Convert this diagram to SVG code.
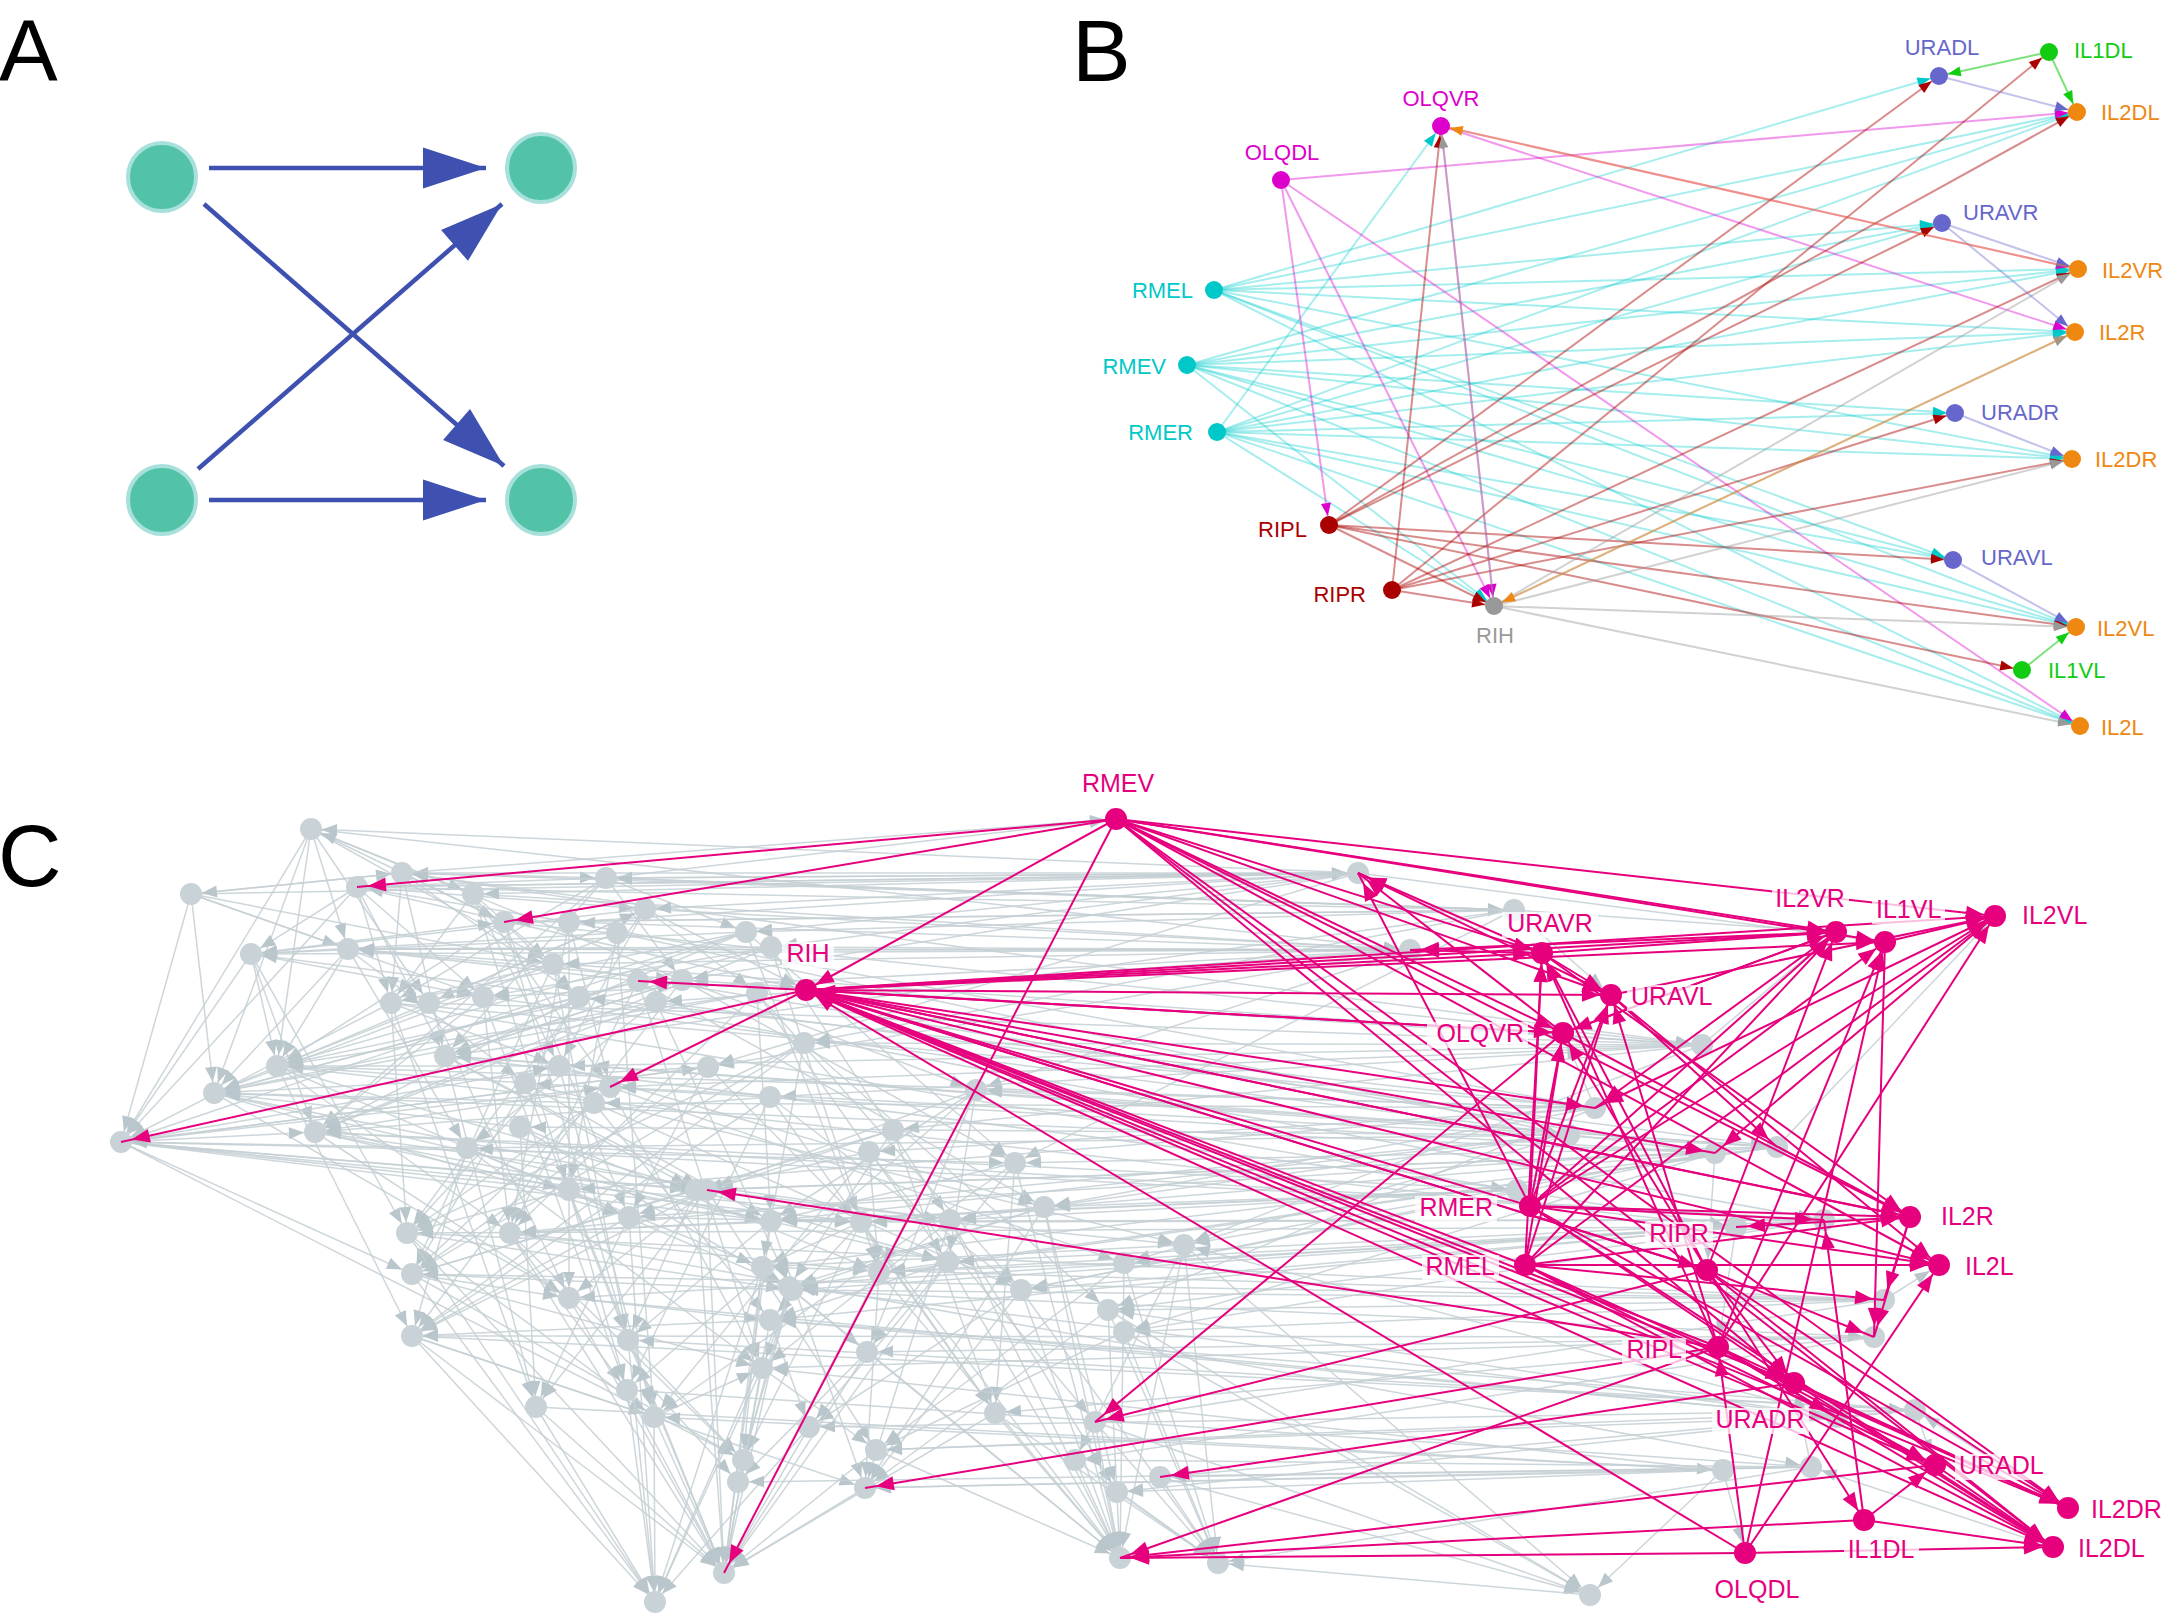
<svg xmlns="http://www.w3.org/2000/svg" width="2167" height="1617" viewBox="0 0 2167 1617">
<style>
text{font-family:"Liberation Sans",Arial,Helvetica,sans-serif}
.pl{font-size:88px;fill:#000}
.Ae line{stroke:#3F51B0;stroke-width:4.5;marker-end:url(#mA)}
.An circle{fill:#52C3A6;stroke:#A8E0DC;stroke-width:4}
.bl{font-size:22px}
.be path{fill:none;stroke-width:2}
.bc path{stroke:#00CCCC;stroke-opacity:.35;marker-end:url(#bc)}
.bm path{stroke:#DD00CC;stroke-opacity:.4;marker-end:url(#bm)}
.br path{stroke:#AA0000;stroke-opacity:.45;marker-end:url(#br)}
.bg path{stroke:#999;stroke-opacity:.45;marker-end:url(#bg)}
.bp path{stroke:#6666CC;stroke-opacity:.4;marker-end:url(#bp)}
.bo path{stroke:#EE8811;stroke-opacity:.45;marker-end:url(#bo)}
.bn path{stroke:#11CC11;stroke-opacity:.55;marker-end:url(#bn)}
.ge path{fill:none;stroke:#C4CFD3;stroke-width:1.5;stroke-opacity:.85;marker-end:url(#mg)}
.gn circle{fill:#C9D3D7}
.pe path{fill:none;stroke:#E6007E;stroke-width:2;marker-end:url(#mp)}
.cl{font-size:25px;fill:#E6007E}
.lb{fill:#fff;fill-opacity:.75}
</style>
<defs>
<marker id="mA" markerUnits="userSpaceOnUse" orient="auto" markerWidth="64" markerHeight="42" refX="63" refY="20.5" overflow="visible"><path d="M0 0L63 20.5 0 41z" fill="#3F51B0"/></marker>
<marker id="bc" markerUnits="userSpaceOnUse" orient="auto" markerWidth="14" markerHeight="10" refX="22" refY="5" overflow="visible"><path d="M0 0L13 5 0 10z" fill="#00C8C8"/></marker>
<marker id="bm" markerUnits="userSpaceOnUse" orient="auto" markerWidth="14" markerHeight="10" refX="22" refY="5" overflow="visible"><path d="M0 0L13 5 0 10z" fill="#DD00CC"/></marker>
<marker id="br" markerUnits="userSpaceOnUse" orient="auto" markerWidth="14" markerHeight="10" refX="22" refY="5" overflow="visible"><path d="M0 0L13 5 0 10z" fill="#AA0000"/></marker>
<marker id="bg" markerUnits="userSpaceOnUse" orient="auto" markerWidth="14" markerHeight="10" refX="22" refY="5" overflow="visible"><path d="M0 0L13 5 0 10z" fill="#999"/></marker>
<marker id="bp" markerUnits="userSpaceOnUse" orient="auto" markerWidth="14" markerHeight="10" refX="22" refY="5" overflow="visible"><path d="M0 0L13 5 0 10z" fill="#6666CC"/></marker>
<marker id="bo" markerUnits="userSpaceOnUse" orient="auto" markerWidth="14" markerHeight="10" refX="22" refY="5" overflow="visible"><path d="M0 0L13 5 0 10z" fill="#EE8811"/></marker>
<marker id="bn" markerUnits="userSpaceOnUse" orient="auto" markerWidth="14" markerHeight="10" refX="22" refY="5" overflow="visible"><path d="M0 0L13 5 0 10z" fill="#11CC11"/></marker>
<marker id="mp" markerUnits="userSpaceOnUse" orient="auto" markerWidth="18" markerHeight="14" refX="29" refY="7" overflow="visible"><path d="M0 0L18 7 0 14z" fill="#E6007E"/></marker>
<marker id="mg" markerUnits="userSpaceOnUse" orient="auto" markerWidth="15" markerHeight="12" refX="26" refY="6" overflow="visible"><path d="M0 0L15 6 0 12z" fill="#B9C6CB"/></marker>
</defs>
<rect width="2167" height="1617" fill="#fff"/>
<text class="pl" x="-1" y="81">A</text>
<text class="pl" x="1072" y="81">B</text>
<text class="pl" x="-2" y="886">C</text>

<!-- Panel A -->
<g id="A-connectors" class="Ae">
<line x1="209" y1="168" x2="486" y2="168"/>
<line x1="209" y1="500" x2="486" y2="500"/>
<line x1="204" y1="204" x2="504" y2="466"/>
<line x1="198" y1="469" x2="502" y2="204"/>
</g>
<g class="An">
<g id="A-n1"><circle cx="162" cy="177" r="34"/></g>
<g id="A-n2"><circle cx="541" cy="168" r="34"/></g>
<g id="A-n3"><circle cx="162" cy="500" r="34"/></g>
<g id="A-n4"><circle cx="541" cy="500" r="34"/></g>
</g>

<!-- Panel B -->
<g id="B-connectors" class="be">
<g class="bc">
<path d="M1214 290 1939 76"/><path d="M1214 290 2077 112"/><path d="M1214 290 1942 223"/><path d="M1214 290 2078 269"/><path d="M1214 290 2075 332"/><path d="M1214 290 2072 459"/><path d="M1214 290 1953 560"/><path d="M1214 290 2076 627"/><path d="M1214 290 2080 726"/>
<path d="M1187 365 2077 112"/><path d="M1187 365 1942 223"/><path d="M1187 365 2078 269"/><path d="M1187 365 2075 332"/><path d="M1187 365 1955 413"/><path d="M1187 365 2072 459"/><path d="M1187 365 1953 560"/><path d="M1187 365 2076 627"/><path d="M1187 365 2080 726"/><path d="M1187 365 1494 606"/>
<path d="M1217 432 1441 126"/><path d="M1217 432 1942 223"/><path d="M1217 432 2078 269"/><path d="M1217 432 2075 332"/><path d="M1217 432 1955 413"/><path d="M1217 432 2072 459"/><path d="M1217 432 1953 560"/><path d="M1217 432 2076 627"/><path d="M1217 432 2080 726"/><path d="M1217 432 1494 606"/><path d="M1217 432 2077 112"/>
</g>
<g class="bm">
<path d="M1281 180 2077 112"/><path d="M1281 180 1329 525"/><path d="M1281 180 1494 606"/><path d="M1281 180 2080 726"/>
<path d="M1441 126 1494 606"/><path d="M1441 126 2078 269"/><path d="M1441 126 2075 332"/>
</g>
<g class="br">
<path d="M1329 525 1939 76"/><path d="M1329 525 2077 112"/><path d="M1329 525 1942 223"/><path d="M1329 525 1953 560"/><path d="M1329 525 2076 627"/><path d="M1329 525 2022 670"/><path d="M1329 525 1494 606"/>
<path d="M1392 590 1441 126"/><path d="M1392 590 2049 52"/><path d="M1392 590 2078 269"/><path d="M1392 590 1955 413"/><path d="M1392 590 2072 459"/><path d="M1392 590 1494 606"/>
</g>
<g class="bg">
<path d="M1494 606 1441 126"/><path d="M1494 606 2078 269"/><path d="M1494 606 2075 332"/><path d="M1494 606 2072 459"/><path d="M1494 606 2076 627"/><path d="M1494 606 2080 726"/>
</g>
<g class="bp">
<path d="M1939 76 2077 112"/><path d="M1942 223 2078 269"/><path d="M1942 223 2075 332"/><path d="M1955 413 2072 459"/><path d="M1953 560 2076 627"/>
</g>
<g class="bo">
<path d="M2078 269 1441 126"/><path d="M2075 332 1494 606"/>
</g>
<g class="bn">
<path d="M2049 52 1939 76"/><path d="M2049 52 2077 112"/><path d="M2022 670 2076 627"/>
</g>
</g>
<g class="bl">
<g id="B-OLQVR"><circle cx="1441" cy="126" r="9" fill="#DD00CC"/><text x="1441" y="106" text-anchor="middle" fill="#DD00CC">OLQVR</text></g>
<g id="B-OLQDL"><circle cx="1281" cy="180" r="9" fill="#DD00CC"/><text x="1282" y="160" text-anchor="middle" fill="#DD00CC">OLQDL</text></g>
<g id="B-RMEL"><circle cx="1214" cy="290" r="9" fill="#00C8C8"/><text x="1193" y="298" text-anchor="end" fill="#00C8C8">RMEL</text></g>
<g id="B-RMEV"><circle cx="1187" cy="365" r="9" fill="#00C8C8"/><text x="1166" y="374" text-anchor="end" fill="#00C8C8">RMEV</text></g>
<g id="B-RMER"><circle cx="1217" cy="432" r="9" fill="#00C8C8"/><text x="1193" y="440" text-anchor="end" fill="#00C8C8">RMER</text></g>
<g id="B-RIPL"><circle cx="1329" cy="525" r="9" fill="#AA0000"/><text x="1307" y="537" text-anchor="end" fill="#AA0000">RIPL</text></g>
<g id="B-RIPR"><circle cx="1392" cy="590" r="9" fill="#AA0000"/><text x="1366" y="602" text-anchor="end" fill="#AA0000">RIPR</text></g>
<g id="B-RIH"><circle cx="1494" cy="606" r="9" fill="#999"/><text x="1495" y="643" text-anchor="middle" fill="#999">RIH</text></g>
<g id="B-URADL"><circle cx="1939" cy="76" r="9" fill="#6666CC"/><text x="1942" y="55" text-anchor="middle" fill="#6666CC">URADL</text></g>
<g id="B-IL1DL"><circle cx="2049" cy="52" r="9" fill="#11CC11"/><text x="2074" y="58" fill="#11CC11">IL1DL</text></g>
<g id="B-IL2DL"><circle cx="2077" cy="112" r="9" fill="#EE8811"/><text x="2101" y="120" fill="#EE8811">IL2DL</text></g>
<g id="B-URAVR"><circle cx="1942" cy="223" r="9" fill="#6666CC"/><text x="1963" y="220" fill="#6666CC">URAVR</text></g>
<g id="B-IL2VR"><circle cx="2078" cy="269" r="9" fill="#EE8811"/><text x="2102" y="278" fill="#EE8811">IL2VR</text></g>
<g id="B-IL2R"><circle cx="2075" cy="332" r="9" fill="#EE8811"/><text x="2099" y="340" fill="#EE8811">IL2R</text></g>
<g id="B-URADR"><circle cx="1955" cy="413" r="9" fill="#6666CC"/><text x="1981" y="420" fill="#6666CC">URADR</text></g>
<g id="B-IL2DR"><circle cx="2072" cy="459" r="9" fill="#EE8811"/><text x="2095" y="467" fill="#EE8811">IL2DR</text></g>
<g id="B-URAVL"><circle cx="1953" cy="560" r="9" fill="#6666CC"/><text x="1981" y="565" fill="#6666CC">URAVL</text></g>
<g id="B-IL2VL"><circle cx="2076" cy="627" r="9" fill="#EE8811"/><text x="2097" y="636" fill="#EE8811">IL2VL</text></g>
<g id="B-IL1VL"><circle cx="2022" cy="670" r="9" fill="#11CC11"/><text x="2048" y="678" fill="#11CC11">IL1VL</text></g>
<g id="B-IL2L"><circle cx="2080" cy="726" r="9" fill="#EE8811"/><text x="2101" y="735" fill="#EE8811">IL2L</text></g>
</g>

<!-- Panel C grey connectors -->
<g id="C-grey-connectors" class="ge">
<path d="M311 829 121 1142"/><path d="M311 829 277 1066"/><path d="M311 829 473 894"/><path d="M311 829 504 922"/><path d="M311 829 553 964"/><path d="M311 829 214 1093"/><path d="M311 829 429 1003"/><path d="M311 829 348 949"/><path d="M311 829 1410 950"/>
<path d="M191 894 121 1142"/><path d="M191 894 348 949"/><path d="M191 894 483 997"/><path d="M191 894 553 964"/><path d="M191 894 214 1093"/><path d="M191 894 402 873"/><path d="M191 894 1358 873"/>
<path d="M357 887 121 1142"/><path d="M357 887 251 954"/><path d="M357 887 483 997"/><path d="M357 887 645 909"/><path d="M357 887 391 1003"/><path d="M357 887 445 1056"/><path d="M357 887 1358 873"/><path d="M357 887 1514 910"/>
<path d="M402 873 504 922"/><path d="M402 873 579 997"/><path d="M402 873 445 1056"/><path d="M402 873 606 878"/><path d="M402 873 391 1003"/><path d="M402 873 191 894"/><path d="M402 873 1702 1045"/>
<path d="M473 894 610 1087"/><path d="M473 894 553 964"/><path d="M473 894 559 1066"/><path d="M473 894 569 1190"/><path d="M473 894 391 1003"/><path d="M473 894 1410 950"/>
<path d="M606 878 315 1132"/><path d="M606 878 391 1003"/><path d="M606 878 682 980"/><path d="M606 878 445 1056"/><path d="M606 878 1358 873"/><path d="M606 878 357 887"/><path d="M606 878 746 932"/><path d="M606 878 1514 910"/>
<path d="M251 954 315 1132"/><path d="M251 954 483 997"/><path d="M251 954 407 1233"/><path d="M251 954 121 1142"/><path d="M251 954 277 1066"/><path d="M251 954 504 922"/><path d="M251 954 1410 950"/>
<path d="M348 949 277 1066"/><path d="M348 949 525 1083"/><path d="M348 949 467 1148"/><path d="M348 949 1410 950"/><path d="M348 949 682 980"/><path d="M348 949 214 1093"/><path d="M348 949 1702 1045"/>
<path d="M504 922 579 997"/><path d="M504 922 629 1217"/><path d="M504 922 628 1340"/><path d="M504 922 277 1066"/><path d="M504 922 1702 1045"/><path d="M504 922 1514 910"/>
<path d="M569 922 610 1087"/><path d="M569 922 569 1298"/><path d="M569 922 510 1233"/><path d="M569 922 357 887"/><path d="M569 922 1358 873"/><path d="M569 922 1595 1108"/>
<path d="M645 909 429 1003"/><path d="M645 909 559 1066"/><path d="M645 909 407 1233"/><path d="M645 909 757 993"/><path d="M645 909 251 954"/><path d="M645 909 402 873"/><path d="M645 909 1410 950"/>
<path d="M617 933 251 954"/><path d="M617 933 569 1190"/><path d="M617 933 654 1417"/><path d="M617 933 277 1066"/><path d="M617 933 1569 1135"/>
<path d="M553 964 391 1003"/><path d="M553 964 412 1274"/><path d="M553 964 628 1340"/><path d="M553 964 214 1093"/><path d="M553 964 1715 1153"/>
<path d="M682 980 277 1066"/><path d="M682 980 445 1056"/><path d="M682 980 412 1336"/><path d="M682 980 976 1090"/><path d="M682 980 311 829"/><path d="M682 980 1015 1163"/>
<path d="M638 981 214 1093"/><path d="M638 981 510 1233"/><path d="M638 981 762 1368"/><path d="M638 981 348 949"/><path d="M638 981 1044 1207"/>
<path d="M656 1002 315 1132"/><path d="M656 1002 467 1148"/><path d="M656 1002 792 1290"/><path d="M656 1002 214 1093"/><path d="M656 1002 1777 1147"/>
<path d="M391 1003 407 1233"/><path d="M391 1003 536 1407"/><path d="M391 1003 121 1142"/><path d="M391 1003 559 1066"/><path d="M391 1003 1595 1108"/><path d="M391 1003 1736 1227"/>
<path d="M429 1003 569 1298"/><path d="M429 1003 214 1093"/><path d="M429 1003 645 909"/><path d="M429 1003 1702 1045"/>
<path d="M483 997 510 1233"/><path d="M483 997 627 1390"/><path d="M483 997 315 1132"/><path d="M483 997 1715 1153"/>
<path d="M579 997 315 1132"/><path d="M579 997 412 1274"/><path d="M579 997 251 954"/><path d="M579 997 1824 1220"/>
<path d="M277 1066 629 1217"/><path d="M277 1066 510 1233"/><path d="M277 1066 412 1336"/><path d="M277 1066 696 1190"/><path d="M277 1066 1736 1227"/><path d="M277 1066 1595 1108"/>
<path d="M445 1056 696 1190"/><path d="M445 1056 536 1407"/><path d="M445 1056 682 980"/><path d="M445 1056 1517 1190"/><path d="M445 1056 707 1190"/><path d="M445 1056 1777 1147"/>
<path d="M559 1066 407 1233"/><path d="M559 1066 654 1417"/><path d="M559 1066 277 1066"/><path d="M559 1066 1044 1207"/>
<path d="M214 1093 629 1217"/><path d="M214 1093 569 1298"/><path d="M214 1093 707 1190"/><path d="M214 1093 948 1262"/><path d="M214 1093 1715 1153"/>
<path d="M525 1083 277 1066"/><path d="M525 1083 628 1340"/><path d="M525 1083 771 1221"/><path d="M525 1083 1184 1245"/>
<path d="M610 1087 412 1274"/><path d="M610 1087 762 1368"/><path d="M610 1087 315 1132"/><path d="M610 1087 1124 1263"/>
<path d="M594 1103 407 1233"/><path d="M594 1103 770 1320"/><path d="M594 1103 214 1093"/><path d="M594 1103 1021 1290"/>
<path d="M315 1132 569 1190"/><path d="M315 1132 569 1298"/><path d="M315 1132 771 1221"/><path d="M315 1132 950 1220"/><path d="M315 1132 1824 1220"/>
<path d="M121 1142 559 1066"/><path d="M121 1142 610 1087"/><path d="M121 1142 696 1190"/><path d="M121 1142 771 1221"/><path d="M121 1142 707 1190"/><path d="M121 1142 1015 1163"/><path d="M121 1142 743 1460"/><path d="M121 1142 708 1067"/><path d="M121 1142 315 1132"/><path d="M121 1142 412 1274"/><path d="M121 1142 1184 1245"/><path d="M121 1142 861 1222"/>
<path d="M520 1127 536 1407"/><path d="M520 1127 792 1290"/><path d="M520 1127 214 1093"/><path d="M520 1127 879 1272"/>
<path d="M467 1148 412 1336"/><path d="M467 1148 762 1368"/><path d="M467 1148 121 1142"/><path d="M467 1148 789 1287"/><path d="M467 1148 1569 1135"/>
<path d="M569 1190 627 1390"/><path d="M569 1190 407 1233"/><path d="M569 1190 724 1573"/><path d="M569 1190 762 1267"/>
<path d="M629 1217 536 1407"/><path d="M629 1217 412 1336"/><path d="M629 1217 655 1602"/><path d="M629 1217 861 1222"/>
<path d="M696 1190 412 1274"/><path d="M696 1190 628 1340"/><path d="M696 1190 724 1573"/><path d="M696 1190 948 1262"/>
<path d="M407 1233 724 1573"/><path d="M407 1233 655 1602"/><path d="M407 1233 654 1417"/><path d="M407 1233 792 1290"/><path d="M407 1233 1884 1300"/>
<path d="M510 1233 724 1573"/><path d="M510 1233 743 1460"/><path d="M510 1233 627 1390"/><path d="M510 1233 879 1272"/><path d="M510 1233 1811 1467"/>
<path d="M412 1274 655 1602"/><path d="M412 1274 762 1368"/><path d="M412 1274 743 1460"/><path d="M412 1274 569 1298"/><path d="M412 1274 1874 1337"/>
<path d="M569 1298 724 1573"/><path d="M569 1298 738 1482"/><path d="M569 1298 770 1320"/><path d="M569 1298 1837 1417"/>
<path d="M412 1336 655 1602"/><path d="M412 1336 724 1573"/><path d="M412 1336 654 1417"/><path d="M412 1336 865 1488"/><path d="M412 1336 1915 1410"/>
<path d="M628 1340 724 1573"/><path d="M628 1340 743 1460"/><path d="M628 1340 655 1602"/>
<path d="M627 1390 655 1602"/><path d="M627 1390 724 1573"/>
<path d="M654 1417 724 1573"/><path d="M654 1417 655 1602"/><path d="M654 1417 762 1368"/>
<path d="M536 1407 724 1573"/><path d="M536 1407 655 1602"/><path d="M536 1407 1723 1470"/>
<path d="M762 1368 724 1573"/><path d="M762 1368 655 1602"/><path d="M762 1368 876 1450"/>
<path d="M771 1221 628 1340"/><path d="M771 1221 510 1233"/><path d="M771 1221 724 1573"/><path d="M771 1221 861 1222"/><path d="M771 1221 865 1488"/>
<path d="M792 1290 762 1368"/><path d="M792 1290 743 1460"/><path d="M792 1290 655 1602"/><path d="M792 1290 867 1352"/>
<path d="M770 1320 724 1573"/><path d="M770 1320 412 1336"/><path d="M770 1320 809 1427"/>
<path d="M707 1190 412 1336"/><path d="M707 1190 536 1407"/><path d="M707 1190 724 1573"/><path d="M707 1190 876 1450"/><path d="M707 1190 569 1298"/>
<path d="M861 1222 1120 1558"/><path d="M861 1222 995 1413"/><path d="M861 1222 770 1320"/><path d="M861 1222 743 1460"/><path d="M861 1222 762 1267"/>
<path d="M950 1220 1120 1558"/><path d="M950 1220 865 1488"/><path d="M950 1220 762 1368"/><path d="M950 1220 1117 1492"/><path d="M950 1220 707 1190"/>
<path d="M1015 1163 1120 1558"/><path d="M1015 1163 995 1413"/><path d="M1015 1163 771 1221"/><path d="M1015 1163 867 1352"/><path d="M1015 1163 654 1417"/>
<path d="M1044 1207 1120 1558"/><path d="M1044 1207 865 1488"/><path d="M1044 1207 792 1290"/><path d="M1044 1207 1117 1492"/><path d="M1044 1207 789 1287"/>
<path d="M1184 1245 1120 1558"/><path d="M1184 1245 1218 1563"/><path d="M1184 1245 1590 1595"/><path d="M1184 1245 1075 1460"/><path d="M1184 1245 762 1267"/>
<path d="M1124 1263 1120 1558"/><path d="M1124 1263 1218 1563"/><path d="M1124 1263 876 1450"/><path d="M1124 1263 879 1272"/>
<path d="M948 1262 1120 1558"/><path d="M948 1262 809 1427"/><path d="M948 1262 770 1320"/><path d="M948 1262 724 1573"/>
<path d="M879 1272 865 1488"/><path d="M879 1272 724 1573"/><path d="M879 1272 1120 1558"/>
<path d="M762 1267 724 1573"/><path d="M762 1267 743 1460"/><path d="M762 1267 655 1602"/>
<path d="M789 1287 738 1482"/><path d="M789 1287 724 1573"/><path d="M789 1287 1120 1558"/>
<path d="M1021 1290 1120 1558"/><path d="M1021 1290 1218 1563"/><path d="M1021 1290 865 1488"/><path d="M1021 1290 809 1427"/>
<path d="M1108 1310 1120 1558"/><path d="M1108 1310 1218 1563"/><path d="M1108 1310 1590 1595"/><path d="M1108 1310 865 1488"/>
<path d="M1124 1332 1218 1563"/><path d="M1124 1332 1590 1595"/><path d="M1124 1332 876 1450"/>
<path d="M867 1352 724 1573"/><path d="M867 1352 738 1482"/><path d="M867 1352 1120 1558"/>
<path d="M809 1427 724 1573"/><path d="M809 1427 655 1602"/>
<path d="M995 1413 1120 1558"/><path d="M995 1413 724 1573"/><path d="M995 1413 1218 1563"/>
<path d="M1095 1422 1218 1563"/><path d="M1095 1422 1590 1595"/><path d="M1095 1422 1120 1558"/>
<path d="M865 1488 724 1573"/><path d="M876 1450 1120 1558"/><path d="M876 1450 724 1573"/>
<path d="M1075 1460 1120 1558"/><path d="M1075 1460 1218 1563"/><path d="M1117 1492 1218 1563"/><path d="M1160 1477 1218 1563"/><path d="M1160 1477 1590 1595"/>
<path d="M746 932 391 1003"/><path d="M746 932 277 1066"/><path d="M746 932 121 1142"/><path d="M746 932 251 954"/><path d="M746 932 861 1222"/><path d="M746 932 1015 1163"/><path d="M746 932 445 1056"/>
<path d="M771 947 348 949"/><path d="M771 947 483 997"/><path d="M771 947 315 1132"/><path d="M771 947 214 1093"/><path d="M771 947 950 1220"/><path d="M771 947 879 1272"/>
<path d="M757 993 277 1066"/><path d="M757 993 214 1093"/><path d="M757 993 510 1233"/><path d="M757 993 771 1221"/><path d="M757 993 948 1262"/><path d="M757 993 1021 1290"/>
<path d="M804 1043 412 1274"/><path d="M804 1043 412 1336"/><path d="M804 1043 407 1233"/><path d="M804 1043 762 1267"/><path d="M804 1043 1108 1310"/>
<path d="M708 1067 214 1093"/><path d="M708 1067 121 1142"/><path d="M708 1067 629 1217"/><path d="M708 1067 412 1274"/><path d="M708 1067 861 1222"/>
<path d="M770 1097 412 1336"/><path d="M770 1097 315 1132"/><path d="M770 1097 627 1390"/><path d="M770 1097 995 1413"/><path d="M770 1097 1021 1290"/>
<path d="M976 1090 771 1221"/><path d="M976 1090 707 1190"/><path d="M976 1090 948 1262"/><path d="M976 1090 867 1352"/><path d="M976 1090 879 1272"/><path d="M976 1090 627 1390"/>
<path d="M893 1130 629 1217"/><path d="M893 1130 412 1274"/><path d="M893 1130 789 1287"/><path d="M893 1130 995 1413"/>
<path d="M869 1152 696 1190"/><path d="M869 1152 654 1417"/><path d="M869 1152 879 1272"/><path d="M869 1152 1095 1422"/>
<path d="M1358 873 311 829"/><path d="M1358 873 357 887"/><path d="M1358 873 402 873"/><path d="M1358 873 606 878"/><path d="M1358 873 645 909"/><path d="M1358 873 746 932"/><path d="M1358 873 771 947"/><path d="M1358 873 682 980"/><path d="M1358 873 708 1067"/><path d="M1358 873 473 894"/>
<path d="M1514 910 402 873"/><path d="M1514 910 606 878"/><path d="M1514 910 746 932"/><path d="M1514 910 804 1043"/><path d="M1514 910 504 922"/><path d="M1514 910 445 1056"/><path d="M1514 910 1015 1163"/>
<path d="M1410 950 348 949"/><path d="M1410 950 569 922"/><path d="M1410 950 553 964"/><path d="M1410 950 656 1002"/><path d="M1410 950 483 997"/><path d="M1410 950 771 947"/><path d="M1410 950 708 1067"/><path d="M1410 950 976 1090"/>
<path d="M1702 1045 682 980"/><path d="M1702 1045 559 1066"/><path d="M1702 1045 610 1087"/><path d="M1702 1045 804 1043"/><path d="M1702 1045 770 1097"/><path d="M1702 1045 893 1130"/><path d="M1702 1045 1184 1245"/>
<path d="M1595 1108 579 997"/><path d="M1595 1108 594 1103"/><path d="M1595 1108 569 1190"/><path d="M1595 1108 869 1152"/><path d="M1595 1108 976 1090"/><path d="M1595 1108 1108 1310"/><path d="M1595 1108 1044 1207"/>
<path d="M1569 1135 445 1056"/><path d="M1569 1135 520 1127"/><path d="M1569 1135 510 1233"/><path d="M1569 1135 771 1221"/><path d="M1569 1135 950 1220"/><path d="M1569 1135 1124 1263"/>
<path d="M1715 1153 525 1083"/><path d="M1715 1153 696 1190"/><path d="M1715 1153 707 1190"/><path d="M1715 1153 861 1222"/><path d="M1715 1153 1021 1290"/><path d="M1715 1153 1124 1332"/><path d="M1715 1153 1184 1245"/>
<path d="M1777 1147 610 1087"/><path d="M1777 1147 629 1217"/><path d="M1777 1147 762 1267"/><path d="M1777 1147 789 1287"/><path d="M1777 1147 879 1272"/><path d="M1777 1147 976 1090"/><path d="M1777 1147 1015 1163"/>
<path d="M1824 1220 467 1148"/><path d="M1824 1220 771 1221"/><path d="M1824 1220 861 1222"/><path d="M1824 1220 948 1262"/><path d="M1824 1220 1108 1310"/><path d="M1824 1220 1021 1290"/><path d="M1824 1220 1124 1332"/>
<path d="M1736 1227 407 1233"/><path d="M1736 1227 569 1298"/><path d="M1736 1227 770 1320"/><path d="M1736 1227 792 1290"/><path d="M1736 1227 879 1272"/><path d="M1736 1227 1124 1263"/>
<path d="M1517 1190 315 1132"/><path d="M1517 1190 510 1233"/><path d="M1517 1190 771 1221"/><path d="M1517 1190 1044 1207"/><path d="M1517 1190 1021 1290"/><path d="M1517 1190 950 1220"/>
<path d="M1884 1300 412 1274"/><path d="M1884 1300 792 1290"/><path d="M1884 1300 762 1267"/><path d="M1884 1300 1124 1332"/><path d="M1884 1300 1095 1422"/><path d="M1884 1300 1108 1310"/>
<path d="M1874 1337 412 1336"/><path d="M1874 1337 762 1368"/><path d="M1874 1337 867 1352"/><path d="M1874 1337 995 1413"/><path d="M1874 1337 1075 1460"/>
<path d="M1915 1410 628 1340"/><path d="M1915 1410 770 1320"/><path d="M1915 1410 809 1427"/><path d="M1915 1410 876 1450"/><path d="M1915 1410 1117 1492"/><path d="M1915 1410 1160 1477"/>
<path d="M1723 1470 654 1417"/><path d="M1723 1470 762 1368"/><path d="M1723 1470 865 1488"/><path d="M1723 1470 1117 1492"/><path d="M1723 1470 1590 1595"/>
<path d="M1811 1467 627 1390"/><path d="M1811 1467 738 1482"/><path d="M1811 1467 865 1488"/><path d="M1811 1467 1075 1460"/><path d="M1811 1467 1160 1477"/><path d="M1811 1467 1218 1563"/>
<path d="M1590 1595 1218 1563"/>
<path d="M1837 1417 770 1320"/><path d="M1837 1417 789 1287"/><path d="M1837 1417 876 1450"/><path d="M1837 1417 1184 1245"/><path d="M1837 1417 1108 1310"/>
<path d="M402 873 1116 819"/><path d="M606 878 1116 819"/><path d="M645 909 806 990"/><path d="M357 887 806 990"/><path d="M1410 950 1542 953"/><path d="M1514 910 1611 995"/><path d="M1702 1045 1836 932"/><path d="M1715 1153 1707 1270"/><path d="M1736 1227 1718 1347"/><path d="M1915 1410 1935 1465"/><path d="M1811 1467 1794 1383"/><path d="M1723 1470 1745 1553"/><path d="M1824 1220 1910 1217"/><path d="M1884 1300 1939 1265"/><path d="M1595 1108 1563 1033"/><path d="M1777 1147 1995 916"/><path d="M1358 873 1885 942"/><path d="M1514 910 1836 932"/><path d="M2068 1508 1915 1410"/><path d="M2053 1547 1811 1467"/>
</g>

<g id="C-grey-nodes" class="gn">
<circle cx="311" cy="829" r="11"/><circle cx="191" cy="894" r="11"/><circle cx="357" cy="887" r="11"/><circle cx="402" cy="873" r="11"/><circle cx="473" cy="894" r="11"/><circle cx="606" cy="878" r="11"/><circle cx="251" cy="954" r="11"/><circle cx="348" cy="949" r="11"/><circle cx="504" cy="922" r="11"/><circle cx="569" cy="922" r="11"/><circle cx="645" cy="909" r="11"/><circle cx="617" cy="933" r="11"/><circle cx="553" cy="964" r="11"/><circle cx="682" cy="980" r="11"/><circle cx="638" cy="981" r="11"/><circle cx="656" cy="1002" r="11"/><circle cx="391" cy="1003" r="11"/><circle cx="429" cy="1003" r="11"/><circle cx="483" cy="997" r="11"/><circle cx="579" cy="997" r="11"/><circle cx="277" cy="1066" r="11"/><circle cx="445" cy="1056" r="11"/><circle cx="559" cy="1066" r="11"/><circle cx="214" cy="1093" r="11"/><circle cx="525" cy="1083" r="11"/><circle cx="610" cy="1087" r="11"/><circle cx="594" cy="1103" r="11"/><circle cx="315" cy="1132" r="11"/><circle cx="121" cy="1142" r="11"/><circle cx="520" cy="1127" r="11"/><circle cx="467" cy="1148" r="11"/><circle cx="569" cy="1190" r="11"/><circle cx="629" cy="1217" r="11"/><circle cx="696" cy="1190" r="11"/><circle cx="407" cy="1233" r="11"/><circle cx="510" cy="1233" r="11"/><circle cx="412" cy="1274" r="11"/><circle cx="569" cy="1298" r="11"/><circle cx="412" cy="1336" r="11"/><circle cx="628" cy="1340" r="11"/><circle cx="627" cy="1390" r="11"/><circle cx="654" cy="1417" r="11"/><circle cx="536" cy="1407" r="11"/><circle cx="762" cy="1368" r="11"/><circle cx="771" cy="1221" r="11"/><circle cx="792" cy="1290" r="11"/><circle cx="770" cy="1320" r="11"/><circle cx="743" cy="1460" r="11"/><circle cx="738" cy="1482" r="11"/><circle cx="724" cy="1573" r="11"/><circle cx="655" cy="1602" r="11"/><circle cx="707" cy="1190" r="11"/><circle cx="861" cy="1222" r="11"/><circle cx="950" cy="1220" r="11"/><circle cx="1015" cy="1163" r="11"/><circle cx="1044" cy="1207" r="11"/><circle cx="1184" cy="1245" r="11"/><circle cx="1124" cy="1263" r="11"/><circle cx="948" cy="1262" r="11"/><circle cx="879" cy="1272" r="11"/><circle cx="762" cy="1267" r="11"/><circle cx="789" cy="1287" r="11"/><circle cx="1021" cy="1290" r="11"/><circle cx="1108" cy="1310" r="11"/><circle cx="1124" cy="1332" r="11"/><circle cx="867" cy="1352" r="11"/><circle cx="809" cy="1427" r="11"/><circle cx="995" cy="1413" r="11"/><circle cx="1095" cy="1422" r="11"/><circle cx="865" cy="1488" r="11"/><circle cx="876" cy="1450" r="11"/><circle cx="1075" cy="1460" r="11"/><circle cx="1117" cy="1492" r="11"/><circle cx="1160" cy="1477" r="11"/><circle cx="1120" cy="1558" r="11"/><circle cx="1218" cy="1563" r="11"/><circle cx="746" cy="932" r="11"/><circle cx="771" cy="947" r="11"/><circle cx="757" cy="993" r="11"/><circle cx="804" cy="1043" r="11"/><circle cx="708" cy="1067" r="11"/><circle cx="770" cy="1097" r="11"/><circle cx="976" cy="1090" r="11"/><circle cx="893" cy="1130" r="11"/><circle cx="869" cy="1152" r="11"/><circle cx="1358" cy="873" r="11"/><circle cx="1514" cy="910" r="11"/><circle cx="1410" cy="950" r="11"/><circle cx="1702" cy="1045" r="11"/><circle cx="1595" cy="1108" r="11"/><circle cx="1569" cy="1135" r="11"/><circle cx="1715" cy="1153" r="11"/><circle cx="1777" cy="1147" r="11"/><circle cx="1824" cy="1220" r="11"/><circle cx="1736" cy="1227" r="11"/><circle cx="1517" cy="1190" r="11"/><circle cx="1884" cy="1300" r="11"/><circle cx="1874" cy="1337" r="11"/><circle cx="1915" cy="1410" r="11"/><circle cx="1723" cy="1470" r="11"/><circle cx="1811" cy="1467" r="11"/><circle cx="1590" cy="1595" r="11"/><circle cx="1837" cy="1417" r="11"/>
</g>

<g id="C-pink-connectors" class="pe">
<path d="M1116 819 2053 1547"/><path d="M1116 819 1542 953"/><path d="M1116 819 1836 932"/><path d="M1116 819 1910 1217"/><path d="M1116 819 1794 1383"/><path d="M1116 819 2068 1508"/><path d="M1116 819 1611 995"/><path d="M1116 819 1995 916"/><path d="M1116 819 1939 1265"/><path d="M1116 819 806 990"/><path d="M1116 819 1885 942"/><path d="M1116 819 1563 1033"/><path d="M1116 819 357 887"/><path d="M1116 819 504 922"/><path d="M1116 819 724 1573"/>
<path d="M1530 1206 1563 1033"/><path d="M1530 1206 1542 953"/><path d="M1530 1206 1836 932"/><path d="M1530 1206 1910 1217"/><path d="M1530 1206 1794 1383"/><path d="M1530 1206 2068 1508"/><path d="M1530 1206 1611 995"/><path d="M1530 1206 1995 916"/><path d="M1530 1206 1939 1265"/><path d="M1530 1206 806 990"/><path d="M1530 1206 1824 1220"/><path d="M1530 1206 1358 873"/><path d="M1530 1206 2053 1547"/><path d="M1530 1206 1885 942"/>
<path d="M1525 1265 1935 1465"/><path d="M1525 1265 2053 1547"/><path d="M1525 1265 1542 953"/><path d="M1525 1265 1836 932"/><path d="M1525 1265 1910 1217"/><path d="M1525 1265 2068 1508"/><path d="M1525 1265 1611 995"/><path d="M1525 1265 1995 916"/><path d="M1525 1265 1939 1265"/><path d="M1525 1265 1563 1033"/><path d="M1525 1265 1884 1300"/><path d="M1525 1265 806 990"/>
<path d="M806 990 1563 1033"/><path d="M806 990 1836 932"/><path d="M806 990 1910 1217"/><path d="M806 990 2068 1508"/><path d="M806 990 1995 916"/><path d="M806 990 1939 1265"/><path d="M806 990 1542 953"/><path d="M806 990 1885 942"/><path d="M806 990 1611 995"/><path d="M806 990 1794 1383"/><path d="M806 990 1935 1465"/><path d="M806 990 2053 1547"/><path d="M806 990 1707 1270"/><path d="M806 990 121 1142"/><path d="M806 990 638 981"/><path d="M806 990 610 1087"/><path d="M806 990 1595 1108"/><path d="M806 990 1715 1153"/>
<path d="M1718 1347 1935 1465"/><path d="M1718 1347 2053 1547"/><path d="M1718 1347 1542 953"/><path d="M1718 1347 1611 995"/><path d="M1718 1347 1995 916"/><path d="M1718 1347 1885 942"/><path d="M1718 1347 806 990"/><path d="M1718 1347 707 1190"/><path d="M1718 1347 865 1488"/><path d="M1718 1347 1120 1558"/><path d="M1718 1347 1837 1417"/><path d="M1718 1347 2068 1508"/>
<path d="M1707 1270 1563 1033"/><path d="M1707 1270 1864 1520"/><path d="M1707 1270 1836 932"/><path d="M1707 1270 1794 1383"/><path d="M1707 1270 2068 1508"/><path d="M1707 1270 806 990"/><path d="M1707 1270 1095 1422"/><path d="M1707 1270 1874 1337"/><path d="M1707 1270 1542 953"/><path d="M1707 1270 2053 1547"/>
<path d="M1745 1553 2053 1547"/><path d="M1745 1553 1718 1347"/><path d="M1745 1553 806 990"/><path d="M1745 1553 1939 1265"/><path d="M1745 1553 1885 942"/><path d="M1745 1553 1120 1558"/>
<path d="M1563 1033 806 990"/><path d="M1563 1033 1836 932"/><path d="M1563 1033 1910 1217"/><path d="M1563 1033 1095 1422"/><path d="M1563 1033 1358 873"/>
<path d="M1836 932 1563 1033"/><path d="M1836 932 1410 950"/><path d="M1836 932 1595 1108"/>
<path d="M1910 1217 806 990"/><path d="M1910 1217 1736 1227"/><path d="M1910 1217 1884 1300"/><path d="M1910 1217 1874 1337"/>
<path d="M1935 1465 2053 1547"/><path d="M1935 1465 1120 1558"/>
<path d="M1542 953 1836 932"/><path d="M1542 953 1910 1217"/><path d="M1542 953 1611 995"/><path d="M1542 953 1410 950"/><path d="M1542 953 1358 873"/>
<path d="M1794 1383 2068 1508"/><path d="M1794 1383 1160 1477"/><path d="M1794 1383 2053 1547"/>
<path d="M1611 995 1995 916"/><path d="M1611 995 1358 873"/><path d="M1611 995 1777 1147"/><path d="M1611 995 1939 1265"/>
<path d="M1864 1520 1935 1465"/><path d="M1864 1520 2053 1547"/><path d="M1864 1520 1120 1558"/><path d="M1864 1520 1824 1220"/>
<path d="M1885 942 1995 916"/><path d="M1885 942 1874 1337"/>
<path d="M1995 916 1595 1108"/><path d="M1995 916 1715 1153"/>
</g>

<g id="C-pink-nodes">
<g id="C-RMEV"><rect class="lb" x="1078" y="772" width="80" height="26"/><circle cx="1116" cy="819" r="11" fill="#E6007E"/><text class="cl" x="1118" y="792" text-anchor="middle">RMEV</text></g>
<g id="C-RIH"><rect class="lb" x="782" y="942" width="52" height="26"/><circle cx="806" cy="990" r="11" fill="#E6007E"/><text class="cl" x="808" y="962" text-anchor="middle">RIH</text></g>
<g id="C-URAVR"><rect class="lb" x="1502" y="912" width="96" height="26"/><circle cx="1542" cy="953" r="11" fill="#E6007E"/><text class="cl" x="1550" y="932" text-anchor="middle">URAVR</text></g>
<g id="C-URAVL"><rect class="lb" x="1627" y="985" width="91" height="26"/><circle cx="1611" cy="995" r="11" fill="#E6007E"/><text class="cl" x="1631" y="1005">URAVL</text></g>
<g id="C-OLQVR"><rect class="lb" x="1427" y="1022" width="101" height="26"/><circle cx="1563" cy="1033" r="11" fill="#E6007E"/><text class="cl" x="1524" y="1042" text-anchor="end">OLQVR</text></g>
<g id="C-IL2VR"><rect class="lb" x="1772" y="887" width="77" height="26"/><circle cx="1836" cy="932" r="11" fill="#E6007E"/><text class="cl" x="1810" y="907" text-anchor="middle">IL2VR</text></g>
<g id="C-IL1VL"><rect class="lb" x="1872" y="898" width="73" height="26"/><circle cx="1885" cy="942" r="11" fill="#E6007E"/><text class="cl" x="1876" y="918">IL1VL</text></g>
<g id="C-IL2VL"><rect class="lb" x="2018" y="904" width="73" height="26"/><circle cx="1995" cy="916" r="11" fill="#E6007E"/><text class="cl" x="2022" y="924">IL2VL</text></g>
<g id="C-RMER"><rect class="lb" x="1415" y="1196" width="82" height="26"/><circle cx="1530" cy="1206" r="11" fill="#E6007E"/><text class="cl" x="1493" y="1216" text-anchor="end">RMER</text></g>
<g id="C-RMEL"><rect class="lb" x="1422" y="1255" width="77" height="26"/><circle cx="1525" cy="1265" r="11" fill="#E6007E"/><text class="cl" x="1495" y="1275" text-anchor="end">RMEL</text></g>
<g id="C-RIPR"><rect class="lb" x="1645" y="1222" width="68" height="26"/><circle cx="1707" cy="1270" r="11" fill="#E6007E"/><text class="cl" x="1679" y="1242" text-anchor="middle">RIPR</text></g>
<g id="C-IL2R"><rect class="lb" x="1937" y="1205" width="61" height="26"/><circle cx="1910" cy="1217" r="11" fill="#E6007E"/><text class="cl" x="1941" y="1225">IL2R</text></g>
<g id="C-IL2L"><rect class="lb" x="1961" y="1255" width="57" height="26"/><circle cx="1939" cy="1265" r="11" fill="#E6007E"/><text class="cl" x="1965" y="1275">IL2L</text></g>
<g id="C-RIPL"><rect class="lb" x="1622" y="1338" width="64" height="26"/><circle cx="1718" cy="1347" r="11" fill="#E6007E"/><text class="cl" x="1682" y="1358" text-anchor="end">RIPL</text></g>
<g id="C-URADR"><rect class="lb" x="1712" y="1408" width="97" height="26"/><circle cx="1794" cy="1383" r="11" fill="#E6007E"/><text class="cl" x="1760" y="1428" text-anchor="middle">URADR</text></g>
<g id="C-URADL"><rect class="lb" x="1955" y="1454" width="93" height="26"/><circle cx="1935" cy="1465" r="11" fill="#E6007E"/><text class="cl" x="1959" y="1474">URADL</text></g>
<g id="C-IL2DR"><rect class="lb" x="2087" y="1498" width="79" height="26"/><circle cx="2068" cy="1508" r="11" fill="#E6007E"/><text class="cl" x="2091" y="1518">IL2DR</text></g>
<g id="C-IL1DL"><rect class="lb" x="1844" y="1538" width="75" height="26"/><circle cx="1864" cy="1520" r="11" fill="#E6007E"/><text class="cl" x="1881" y="1558" text-anchor="middle">IL1DL</text></g>
<g id="C-IL2DL"><rect class="lb" x="2074" y="1537" width="75" height="26"/><circle cx="2053" cy="1547" r="11" fill="#E6007E"/><text class="cl" x="2078" y="1557">IL2DL</text></g>
<g id="C-OLQDL"><rect class="lb" x="1709" y="1578" width="97" height="26"/><circle cx="1745" cy="1553" r="11" fill="#E6007E"/><text class="cl" x="1757" y="1598" text-anchor="middle">OLQDL</text></g>
</g>
</svg>
